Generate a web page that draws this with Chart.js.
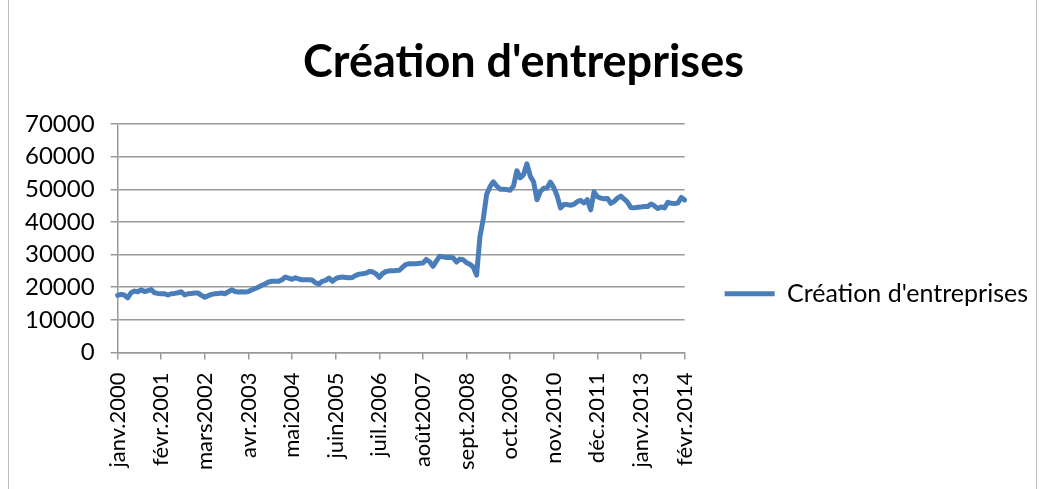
<!DOCTYPE html>
<html>
<head>
<meta charset="utf-8">
<script src="https://cdn.jsdelivr.net/npm/chart.js"></script>
<style>
  html, body { margin: 0; padding: 0; background: #fff; }
  #wrap { position: relative; width: 1043px; height: 489px; overflow: hidden; }
  #frame { position: absolute; left: 8px; top: -2px; width: 1027px; height: 520px; border: 1px solid #bdbdbd; }
  canvas { position: absolute; left: 0; top: 0; }
</style>
</head>
<body>
<div id="wrap">
  <div id="frame"></div>
  <canvas id="chart" width="1043" height="489"></canvas>
</div>
<script>
// Création d'entreprises, série mensuelle janv.2000 -> févr.2014
const monthNames = ['janv.', 'févr.', 'mars', 'avr.', 'mai', 'juin', 'juil.', 'août', 'sept.', 'oct.', 'nov.', 'déc.'];
const firstYear = 2000;
const monthCount = 170;
const labelEvery = 13; // une étiquette tous les 13 mois
const seriesName = "Création d'entreprises";
const yTicks = [0, 10000, 20000, 30000, 40000, 50000, 60000, 70000];

const creations = [
  17500, 17800, 17600, 16700, 18300, 18800, 18600, 19200, 18700, 18900, 19300, 18300, // 2000
  18100, 18000, 18000, 17600, 18000, 18100, 18300, 18600, 17600, 18000, 18100, 18200, // 2001
  18200, 17500, 16900, 17400, 17800, 18000, 18100, 18200, 18000, 18600, 19200, 18700, // 2002
  18500, 18600, 18500, 18700, 19200, 19600, 20000, 20600, 21000, 21600, 21800, 21800, // 2003
  21800, 22300, 23100, 22800, 22400, 22900, 22500, 22300, 22300, 22300, 22200, 21300, // 2004
  21000, 21800, 22100, 22800, 21800, 22600, 23000, 23100, 23000, 22900, 23000, 23600, // 2005
  24000, 24100, 24300, 24800, 24700, 24100, 23000, 24200, 24800, 25000, 25000, 25100, // 2006
  25200, 26200, 27000, 27200, 27200, 27200, 27300, 27400, 28500, 27800, 26400, 28000, // 2007
  29500, 29300, 29100, 29100, 29000, 27700, 28600, 28400, 27500, 27000, 26200, 23700, // 2008
  35500, 41000, 48500, 50800, 52300, 51000, 50000, 50000, 49900, 49700, 51000, 55700, // 2009
  53500, 54500, 57800, 54000, 52200, 46800, 49300, 50300, 50400, 52200, 50500, 48000, // 2010
  44300, 45300, 45300, 45100, 45400, 46200, 46600, 45800, 46800, 43700, 49200, 47700, // 2011
  47300, 47100, 47200, 45700, 46300, 47300, 47900, 47000, 46000, 44400, 44300, 44500, // 2012
  44600, 44700, 44700, 45500, 44900, 44100, 44600, 44300, 46000, 45700, 45600, 45800, // 2013
  47500, 46700                                                                         // 2014
];

const categories = [];
for (let i = 0; i < monthCount; i++) {
  categories.push(monthNames[i % 12] + (firstYear + Math.floor(i / 12)));
}

const gridGrey = '#9a9a9a';
Chart.defaults.font.family = 'Lato';

new Chart(document.getElementById('chart'), {
  type: 'line',
  data: {
    labels: categories,
    datasets: [{
      label: seriesName,
      data: creations,
      borderColor: '#4a7ebb',
      backgroundColor: '#4a7ebb',
      borderWidth: 5,
      pointRadius: 0,
      tension: 0,
      borderJoinStyle: 'round',
      borderCapStyle: 'round'
    }]
  },
  options: {
    responsive: false,
    animation: false,
    layout: { padding: { left: 9, right: 5, top: 0, bottom: 6 } },
    plugins: {
      title: {
        display: true,
        text: seriesName,
        color: '#000',
        font: { family: 'Lato', size: 45, weight: 'bold' },
        padding: { top: 35, bottom: 35 }
      },
      legend: {
        position: 'right',
        maxWidth: 400, // sinon limité à un quart de la largeur
        title: { display: true, text: ' ', color: 'rgba(0,0,0,0)', font: { size: 12 }, padding: 45 },
        labels: {
          boxWidth: 50,
          boxHeight: 5,
          padding: 40,
          color: '#000',
          font: { family: 'Lato', size: 25 },
          generateLabels: (chart) => Chart.defaults.plugins.legend.labels.generateLabels(chart)
            .map(l => ({ ...l, lineWidth: 0, fillStyle: '#4a7ebb' }))
        }
      },
      tooltip: { enabled: false }
    },
    scales: {
      x: {
        ticks: {
          autoSkip: false,
          minRotation: 90,
          maxRotation: 90,
          padding: 13,
          color: '#000',
          font: { family: 'Lato', size: 22 },
          callback: (v, i) => (i % labelEvery === 0 ? categories[i] : '')
        },
        grid: {
          drawOnChartArea: false,
          tickLength: 7,
          lineWidth: 1.5,
          color: (c) => (c.index % labelEvery === 0 ? gridGrey : 'rgba(0,0,0,0)')
        },
        border: { color: gridGrey, width: 1.5 }
      },
      y: {
        min: yTicks[0],
        max: yTicks[yTicks.length - 1],
        afterBuildTicks: (scale) => { scale.ticks = yTicks.map(v => ({ value: v })); },
        ticks: {
          autoSkip: false,
          padding: 16,
          color: '#000',
          font: { family: 'Lato', size: 24 },
          callback: (v) => String(v)
        },
        grid: { color: gridGrey, lineWidth: 1.5, tickLength: 7 },
        border: { color: gridGrey, width: 1.5 }
      }
    }
  }
});
</script>
</body>
</html>
